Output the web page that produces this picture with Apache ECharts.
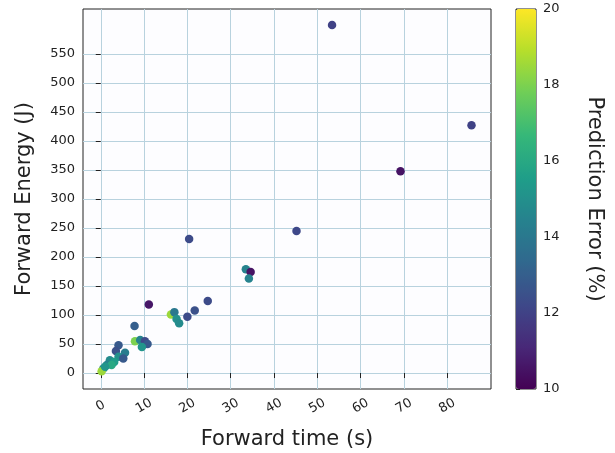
<!DOCTYPE html>
<html>
<head>
<meta charset="utf-8">
<script src="https://cdn.jsdelivr.net/npm/echarts@6/dist/echarts.min.js"></script>
<style>
  html, body { margin: 0; padding: 0; background: #fff; }
  #chart { width: 615px; height: 453px; }
</style>
</head>
<body>
<div id="chart"></div>
<script>
// forward time (s), forward energy (J), prediction error (%)
var times    = [53.4, 85.6, 69.2, 20.4, 45.2, 33.5, 34.6, 34.2, 24.7, 11.1, 21.7, 20.0, 16.2, 17.0, 17.5, 18.1, 7.8, 7.9, 9.1, 10.2, 10.8, 9.5, 4.1, 3.5, 5.6, 4.1, 5.2, 2.1, 3.1, 1.4, 2.5, 0.6, 0.2, 1.0];
var energies = [600, 427, 348, 231, 245, 179, 174, 163, 124, 118, 108, 97, 101, 105, 93, 86, 81, 55, 57, 55, 50, 45, 48, 38, 35, 28, 25, 22, 19, 14, 14, 8, 3, 11];
var errors   = [12.0, 12.0, 10.5, 12.3, 12.2, 14.5, 10.5, 14.5, 12.3, 10.6, 12.5, 12.3, 18.5, 14.0, 15.0, 14.8, 13.0, 18.0, 14.5, 12.3, 12.8, 15.2, 12.8, 12.5, 14.2, 15.0, 12.8, 14.8, 15.5, 14.5, 16.0, 14.8, 18.5, 15.2];

var xTicks = [0, 10, 20, 30, 40, 50, 60, 70, 80];
var yTicks = [0, 50, 100, 150, 200, 250, 300, 350, 400, 450, 500, 550];
var cbarTicks = [10, 12, 14, 16, 18, 20];

var viridis = ['#440154', '#482878', '#3e4989', '#31688e', '#26828e', '#1f9e89', '#35b779', '#6ece58', '#b5de2b', '#fde725'];

var points = [];
for (var i = 0; i < times.length; i++) {
    points.push([times[i], energies[i], errors[i]]);
}

var myChart = echarts.init(document.getElementById('chart'));
var gridColor = '#b8d2de';
var txt = '#222';
var option = {
    backgroundColor: '#fff',
    textStyle: { fontFamily: 'DejaVu Sans' },
    animation: false,
    grid: [
        { left: 83, top: 9, width: 408, height: 380, outerBoundsMode: 'none', show: true, borderColor: '#222', borderWidth: 1, backgroundColor: '#fdfdff' },
        { left: 516, top: 9, width: 20, height: 380, outerBoundsMode: 'none', show: true, borderColor: '#222', borderWidth: 1 }
    ],
    xAxis: [{
        gridIndex: 0,
        type: 'value',
        min: -4.1,
        max: 90.1,
        name: 'Forward time (s)',
        nameLocation: 'middle',
        nameGap: 40,
        nameTextStyle: { fontSize: 21, color: txt },
        axisLine: { show: false },
        axisTick: { show: true, length: 5, customValues: xTicks, lineStyle: { color: txt } },
        axisLabel: { rotate: 30, align: 'center', verticalAlign: 'middle', fontSize: 13, color: txt, customValues: xTicks, margin: 17 },
        splitLine: { show: true, lineStyle: { color: gridColor, width: 1 } }
    }, {
        gridIndex: 1,
        type: 'value',
        show: false,
        min: 0,
        max: 1
    }],
    yAxis: [{
        gridIndex: 0,
        type: 'value',
        min: -27.5,
        max: 627.5,
        name: 'Forward Energy (J)',
        nameLocation: 'middle',
        nameGap: 48,
        nameTextStyle: { fontSize: 21, color: txt },
        axisLine: { show: false },
        axisTick: { show: true, length: 5, customValues: yTicks, lineStyle: { color: txt } },
        axisLabel: { fontSize: 13, color: txt, customValues: yTicks, margin: 8 },
        splitLine: { show: true, lineStyle: { color: gridColor, width: 1 } }
    }, {
        gridIndex: 1,
        type: 'value',
        position: 'right',
        min: 10,
        max: 20,
        interval: 2,
        name: 'Prediction Error (%)',
        nameLocation: 'middle',
        nameRotate: -90,
        nameGap: 48,
        nameTextStyle: { fontSize: 21, color: txt },
        axisLine: { show: false },
        axisTick: { show: true, length: 4, customValues: cbarTicks, lineStyle: { color: txt } },
        axisLabel: { fontSize: 13, color: txt, customValues: cbarTicks, margin: 7 },
        splitLine: { show: false }
    }],
    visualMap: {
        type: 'continuous',
        min: 10,
        max: 20,
        dimension: 2,
        seriesIndex: 0,
        calculable: false,
        hoverLink: false,
        left: 516,
        top: 9,
        padding: 0,
        itemWidth: 20,
        itemHeight: 380,
        text: ['', ''],
        inRange: { color: viridis }
    },
    series: [{
        type: 'scatter',
        xAxisIndex: 0,
        yAxisIndex: 0,
        symbolSize: 8.5,
        clip: false,
        itemStyle: { opacity: 1 },
        data: points
    }]
};
myChart.setOption(option);
</script>
</body>
</html>
